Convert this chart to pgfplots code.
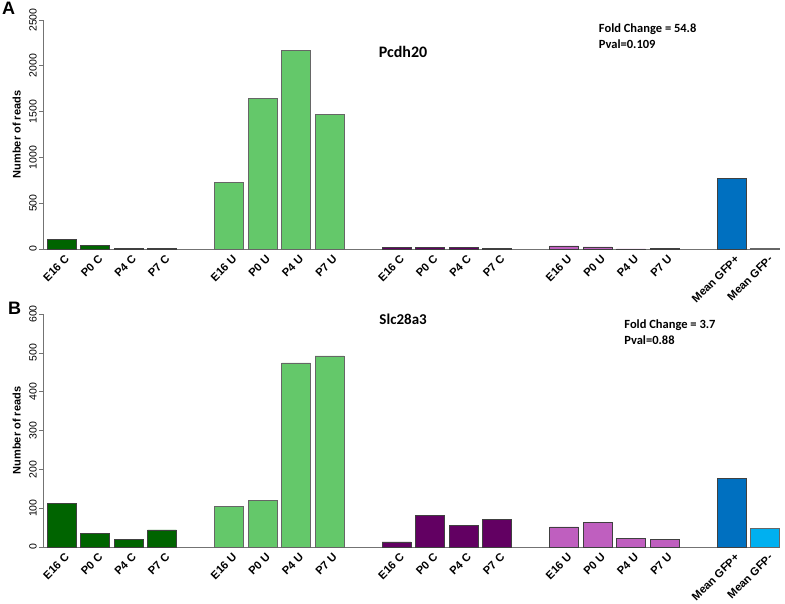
\documentclass[border=0pt]{standalone}
\usepackage{pgfplots}
\pgfplotsset{compat=1.18}
\usepackage{fontspec}
\setmainfont{Liberation Sans}
\newfontfamily\calibri{Carlito}
\definecolor{dkgreen}{HTML}{006400}
\definecolor{ltgreen}{HTML}{64C86A}
\definecolor{dkpurple}{HTML}{620062}
\definecolor{ltpurple}{HTML}{BF5FBF}
\definecolor{gfpblue}{HTML}{0070C0}
\definecolor{ltblue}{HTML}{00B0F0}
\pgfplotsset{
  myaxis/.style={
    scale only axis, width=737pt, xmin=-0.55, xmax=21.45, ymin=0,
    axis lines=left, axis line style={-, black!55, line width=0.6pt},
    xtick={0,1,2,3,5,6,7,8,10,11,12,13,15,16,17,18,20,21},
    xticklabels={E16 C,P0 C,P4 C,P7 C,E16 U,P0 U,P4 U,P7 U,E16 C,P0 C,P4 C,P7 C,E16 U,P0 U,P4 U,P7 U,Mean GFP+,Mean GFP-},
    x tick style={draw=none},
    xticklabel style={rotate=45, anchor=north east, font=\fontsize{11.2}{13}\selectfont\bfseries, inner sep=1pt, yshift=-2pt, xshift=2pt},
    yticklabel style={rotate=90, anchor=south, font=\fontsize{10.5}{12}\selectfont, inner sep=2pt},
    y tick style={black!55, line width=0.6pt},
    major tick length=4pt, tick align=outside,
    ylabel={Number of reads},
    ylabel shift=3pt,
    ylabel style={font=\fontsize{11}{12}\selectfont\bfseries},
    /pgf/number format/assume math mode=true,
    /pgf/number format/1000 sep={},
    scaled y ticks=false,
    clip=false,
  },
  bars/.style={ybar, bar width=0.86, bar shift=0pt, draw=black!75, line width=0.6pt, fill=#1},
}
\begin{document}
\begin{tikzpicture}[x=1pt,y=1pt]
\useasboundingbox (0,0) rectangle (785,603);
% Panel A
\begin{axis}[myaxis, at={(43pt,354pt)}, anchor=south west, height=229pt, ymax=2500,
  ytick={0,500,1000,1500,2000,2500}]
\addplot[bars=dkgreen] coordinates {(0,105) (1,36) (2,7) (3,5)};
\addplot[bars=ltgreen, draw=black!60] coordinates {(5,728) (6,1646) (7,2170) (8,1470)};
\addplot[bars=dkpurple] coordinates {(10,15) (11,18) (12,16) (13,5)};
\addplot[bars=ltpurple] coordinates {(15,33) (16,24) (17,2) (18,8)};
\addplot[bars=gfpblue] coordinates {(20,771)};
\addplot[bars=ltblue, draw=black!60] coordinates {(21,13)};
\node[font=\calibri\fontsize{16}{18}\selectfont\bfseries] at (axis cs:10.2,2150) {Pcdh20};
\node[font=\calibri\fontsize{12.5}{16}\selectfont\bfseries, anchor=north west, inner sep=0pt, align=left] at (axis cs:16.04,2460) {Fold Change = 54.8\\Pval=0.109};
\end{axis}
% Panel B
\begin{axis}[myaxis, at={(43pt,56pt)}, anchor=south west, height=233pt, ymax=600,
  ytick={0,100,200,300,400,500,600}]
\addplot[bars=dkgreen] coordinates {(0,113) (1,35) (2,20) (3,44)};
\addplot[bars=ltgreen, draw=black!60] coordinates {(5,105) (6,121) (7,474) (8,492)};
\addplot[bars=dkpurple] coordinates {(10,13) (11,82) (12,56) (13,71)};
\addplot[bars=ltpurple] coordinates {(15,52) (16,63) (17,23) (18,20)};
\addplot[bars=gfpblue] coordinates {(20,177)};
\addplot[bars=ltblue, draw=black!60] coordinates {(21,47)};
\node[font=\calibri\fontsize{15}{18}\selectfont\bfseries] at (axis cs:10.2,587) {Slc28a3};
\node[font=\calibri\fontsize{12.5}{16}\selectfont\bfseries, anchor=north west, inner sep=0pt, align=left] at (axis cs:16.8,587) {Fold Change = 3.7\\Pval=0.88};
\end{axis}
\node[font=\fontsize{18}{20}\selectfont\bfseries, anchor=north west, inner sep=0pt] at (2,601) {A};
\node[font=\fontsize{18}{20}\selectfont\bfseries, anchor=north west, inner sep=0pt] at (8,301) {B};
\end{tikzpicture}
\end{document}
